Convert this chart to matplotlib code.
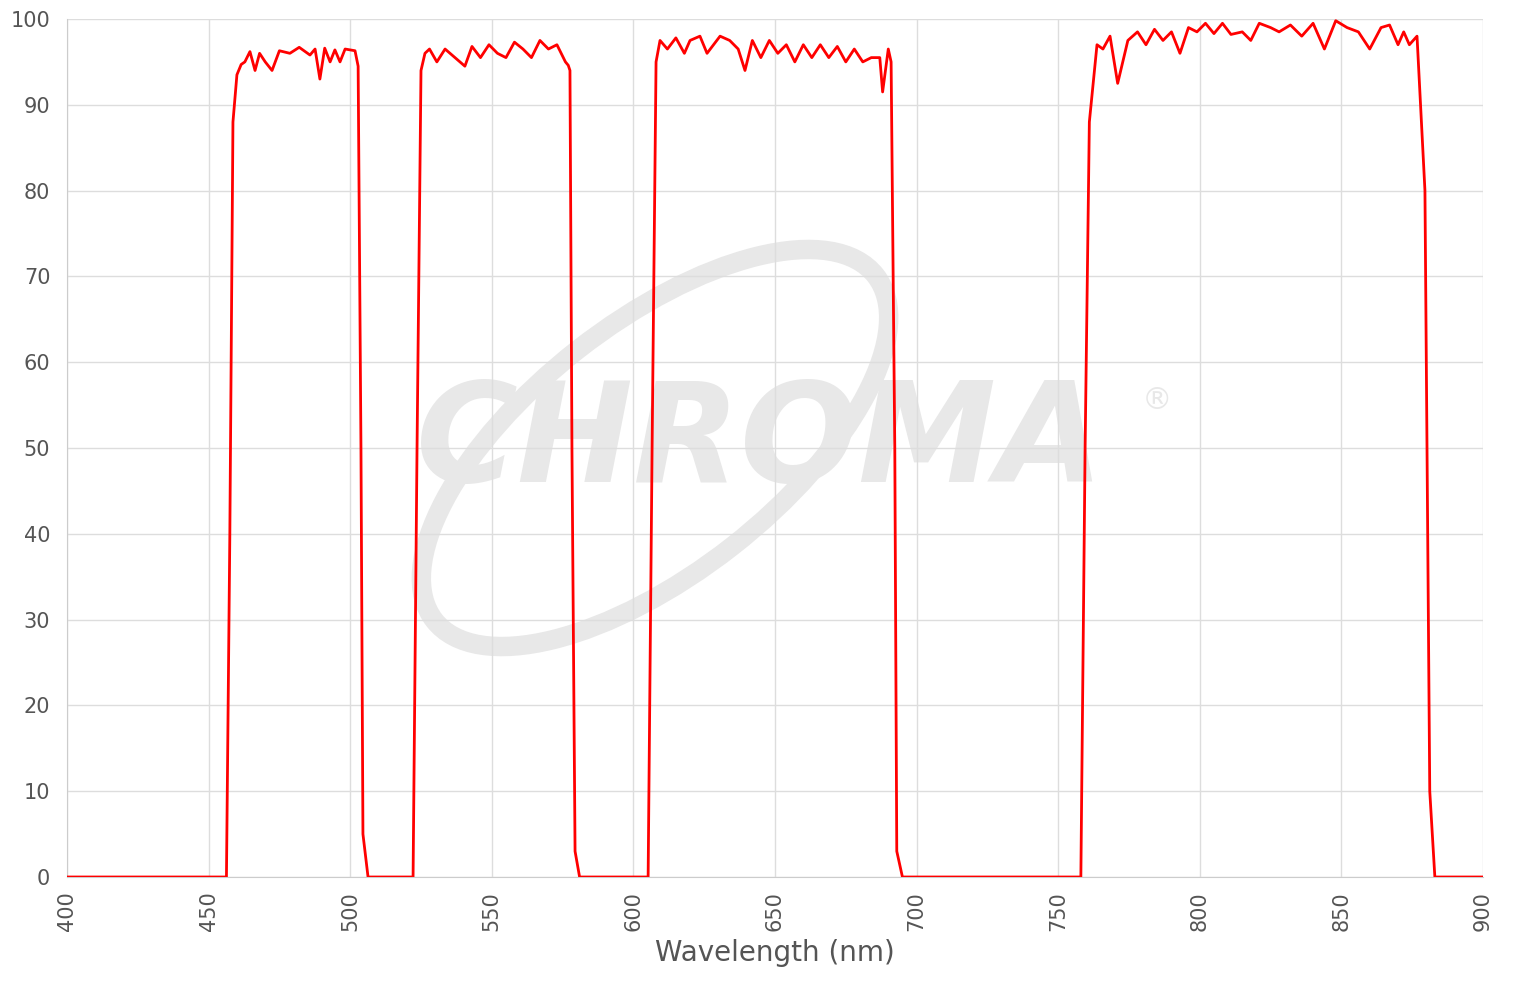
import matplotlib
matplotlib.use("Agg")
import matplotlib.pyplot as plt
from matplotlib.patches import Ellipse

wl_b1 = [400, 456.3, 457.5, 458.6, 460, 461.5, 462.8, 464.6, 466.4, 468, 470, 472.4, 475, 478.7, 482, 485.8, 487.6, 489.3, 491, 492.9, 494.6, 496.4, 498.2, 501.7, 502.8, 503.8, 504.5, 506.3]
tr_b1 = [0, 0, 40, 88, 93.5, 94.7, 95, 96.2, 94, 96, 95, 94, 96.3, 96, 96.7, 95.8, 96.5, 93, 96.6, 95, 96.4, 95, 96.5, 96.3, 94.5, 50, 5, 0]
wl_b2 = [522.2, 523.6, 525, 526.4, 528, 530.6, 533.5, 537, 540.5, 543, 546, 549, 552, 555, 558, 561, 564, 567, 570, 573, 576, 577, 577.6, 578.3, 579.4, 581]
tr_b2 = [0, 50, 94, 96, 96.5, 95, 96.5, 95.5, 94.5, 96.8, 95.5, 97, 96, 95.5, 97.3, 96.5, 95.5, 97.5, 96.5, 97, 95, 94.6, 94, 50, 3, 0]
wl_b3 = [605.2, 606.6, 608, 609.4, 612, 615, 618, 620, 623.5, 626, 630.6, 634, 637, 639.4, 642, 645, 648, 651, 654, 657, 660, 663, 666, 669, 672, 675, 678, 681, 684, 687, 688, 690, 691, 692.3, 693, 695]
tr_b3 = [0, 50, 95, 97.5, 96.5, 97.8, 96, 97.5, 98, 96, 98, 97.5, 96.5, 94, 97.5, 95.5, 97.5, 96, 97, 95, 97, 95.5, 97, 95.5, 96.8, 95, 96.5, 95, 95.5, 95.5, 91.5, 96.5, 95, 50, 3, 0]
wl_b4 = [758, 759.5, 761, 763.7, 765.8, 768.3, 771, 774.6, 778, 781, 784, 787, 790, 793, 796, 799, 802, 805, 808, 811, 815, 818, 821, 825, 828, 832, 836, 840, 844, 848, 852, 856, 860, 864, 867, 870, 872, 874, 876.7, 879.5, 881.2, 883, 900]
tr_b4 = [0, 50, 88, 97, 96.5, 98, 92.5, 97.5, 98.5, 97, 98.8, 97.5, 98.5, 96, 99, 98.5, 99.5, 98.3, 99.5, 98.2, 98.5, 97.5, 99.5, 99, 98.5, 99.3, 98, 99.5, 96.5, 99.8, 99, 98.5, 96.5, 99, 99.3, 97, 98.5, 97, 98, 80, 10, 0, 0]

wl = wl_b1 + wl_b2 + wl_b3 + wl_b4
tr = tr_b1 + tr_b2 + tr_b3 + tr_b4

fig = plt.figure(figsize=(15.2, 10), dpi=100)
ax = fig.add_axes([67/1520, 1 - 877/1000, (1483-67)/1520, (877-19)/1000])

# watermark (in pixel coordinates)
ax.add_artist(Ellipse((655, 1000 - 448), 560, 250, angle=38, fill=False, lw=14,
                      edgecolor="#e8e8e8", zorder=0, transform=None))
ax.text(0.49, 0.505, "CHROMA", transform=ax.transAxes, fontsize=100,
        fontweight="bold", style="italic", color="#e8e8e8",
        ha="center", va="center", zorder=0)
ax.text(0.77, 0.555, "®", transform=ax.transAxes, fontsize=22,
        color="#e8e8e8", ha="center", va="center", zorder=0)

ax.plot(wl, tr, color="#ff0000", lw=2, zorder=3)
ax.set_xlim(400, 900)
ax.set_ylim(0, 100)
ax.set_xticks(range(400, 901, 50))
ax.set_yticks(range(0, 101, 10))
ax.grid(True, color="#dddddd", lw=1)
for s in ["top", "right"]:
    ax.spines[s].set_visible(False)
ax.spines["left"].set_color("#cccccc")
ax.spines["bottom"].set_color("#cccccc")
ax.tick_params(colors="#555555", labelsize=15, length=0)
ax.tick_params(axis="x", pad=10)
ax.tick_params(axis="y", pad=12)
plt.setp(ax.get_xticklabels(), rotation=90)
ax.set_xlabel("Wavelength (nm)", fontsize=20, color="#555555", labelpad=6)
fig.savefig("out.png")
